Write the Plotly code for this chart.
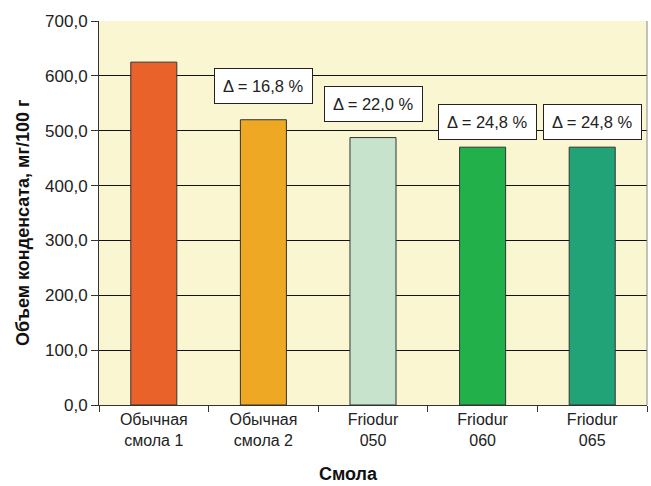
import plotly.graph_objects as go

categories = ["Обычная<br>смола 1", "Обычная<br>смола 2", "Friodur<br>050", "Friodur<br>060", "Friodur<br>065"]
values = [625.0, 520.0, 487.5, 470.0, 470.0]
bar_colors = ["#E8622A", "#EFA823", "#C8E3CC", "#22B04A", "#21A277"]
delta_labels = [None, "Δ = 16,8 %", "Δ = 22,0 %", "Δ = 24,8 %", "Δ = 24,8 %"]
delta_shift = [0, 16, 16, 7, 7]
delta_xshift = [0, 0, 0, 5, 0]
y_ticks = [0, 100, 200, 300, 400, 500, 600, 700]
y_tick_text = ["0,0", "100,0", "200,0", "300,0", "400,0", "500,0", "600,0", "700,0"]

FONT = "Liberation Sans, Arial"

fig = go.Figure()
fig.add_trace(go.Bar(
    x=categories, y=values,
    marker=dict(color=bar_colors, line=dict(color="#333333", width=1)),
    width=0.42,
))

for cat, val, lab, sh, xs in zip(categories, values, delta_labels, delta_shift, delta_xshift):
    if lab:
        fig.add_annotation(
            x=cat, y=val, text=lab, showarrow=False,
            yanchor="bottom", yshift=sh, xshift=xs,
            font=dict(family=FONT, size=16.5, color="#222222"),
            bgcolor="white", bordercolor="#222222", borderwidth=1, borderpad=8,
        )

# y axis title
fig.add_annotation(
    xref="paper", yref="paper", x=0, y=0.5, xshift=-76, yshift=-10,
    text="<b>Объем конденсата, мг/100 г</b>", textangle=-90, showarrow=False,
    xanchor="center", yanchor="middle",
    font=dict(family=FONT, size=18, color="#111111"),
)
# x axis title
fig.add_annotation(
    xref="paper", yref="paper", x=0.455, y=0, yshift=-69,
    text="<b>Смола</b>", showarrow=False,
    xanchor="center", yanchor="middle",
    font=dict(family=FONT, size=18, color="#111111"),
)

fig.add_shape(type="line", xref="paper", yref="paper", x0=1, x1=1, y0=0, y1=1,
              line=dict(color="#888888", width=1))

fig.update_layout(
    width=651, height=486,
    margin=dict(l=99, r=4, t=21, b=81),
    paper_bgcolor="white", plot_bgcolor="#FAF6D2",
    showlegend=False,
    font=dict(family=FONT, size=16, color="#222222"),
)
fig.update_xaxes(
    tickson="boundaries", ticks="outside", ticklen=6, tickcolor="#333333",
    showline=True, linecolor="#333333", linewidth=1,
    tickfont=dict(size=16), automargin=False,
)
fig.update_yaxes(
    range=[0, 700], tickvals=y_ticks, ticktext=y_tick_text,
    ticks="outside", ticklen=7, tickcolor="#333333",
    showline=True, linecolor="#333333", linewidth=1,
    showgrid=True, gridcolor="#111111", gridwidth=1,
    zeroline=False, automargin=False,
    tickfont=dict(size=17),
)

post = (
    "document.body.style.margin='0';document.body.style.padding='0';"
    "document.body.style.overflow='hidden';"
    "var gd=document.getElementById('{plot_id}');"
    "Plotly.relayout(gd,{width:651,height:486});"
)
fig.write_html("out.html", post_script=post, default_width="651px", default_height="486px",
               config={"displayModeBar": False})
